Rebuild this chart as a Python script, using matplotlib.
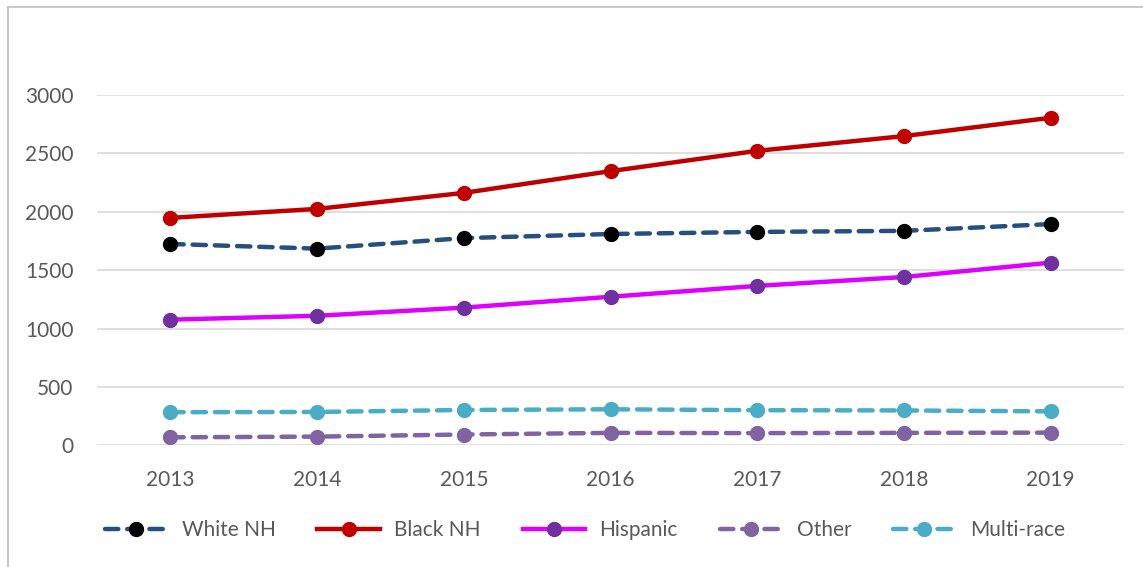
import matplotlib.pyplot as plt
from matplotlib.lines import Line2D

years = ['2013', '2014', '2015', '2016', '2017', '2018', '2019']
white_nh = [1725, 1685, 1775, 1810, 1828, 1837, 1895]
black_nh = [1948, 2025, 2162, 2348, 2522, 2648, 2805]
hispanic = [1077, 1110, 1180, 1273, 1366, 1442, 1565]
other = [70, 76, 94, 108, 106, 108, 110]
multi_race = [285, 287, 304, 310, 302, 300, 292]

txt = '#595959'
plt.rcParams['font.family'] = ['Lato', 'DejaVu Sans']

fig = plt.figure(figsize=(11.43, 5.67), dpi=100)
ax = fig.add_axes([0.0849, 0.2143, 0.8985, 0.6182])

x = range(len(years))
ax.plot(x, white_nh, color='#264f7f', lw=3.2, ls=(0, (3, 2)), dash_capstyle='round',
        marker='o', ms=10, mfc='black', mec='black', label='White NH', zorder=4)
ax.plot(x, black_nh, color='#c00000', lw=3.2, marker='o', ms=10,
        mfc='#c00000', mec='#c00000', label='Black NH', zorder=4)
ax.plot(x, hispanic, color='#dd00ff', lw=3.2, marker='o', ms=10,
        mfc='#7030a0', mec='#7030a0', label='Hispanic', zorder=4)
ax.plot(x, other, color='#8064a2', lw=3.2, ls=(0, (3, 2)), dash_capstyle='round',
        marker='o', ms=10, mfc='#8064a2', mec='#8064a2', label='Other', zorder=4)
ax.plot(x, multi_race, color='#4bacc6', lw=3.2, ls=(0, (3, 2)), dash_capstyle='round',
        marker='o', ms=10, mfc='#4bacc6', mec='#4bacc6', label='Multi-race', zorder=4)

ax.set_xlim(-0.5, 6.5)
ax.set_ylim(0, 3000)
ax.set_yticks(range(0, 3001, 500))
ax.set_xticks(list(x))
ax.set_xticklabels(years)
ax.grid(axis='y', color='#d9d9d9', lw=1.2)
ax.set_axisbelow(True)
for s in ax.spines.values():
    s.set_visible(False)
ax.tick_params(length=0, labelsize=15, colors=txt)
ax.tick_params(axis='y', pad=17)
ax.tick_params(axis='x', pad=18)

ax.legend(loc='center', bbox_to_anchor=(0.475, -0.241), ncol=5, frameon=False,
          fontsize=15, labelcolor=txt, handlelength=3.0, columnspacing=2.0, handletextpad=0.7)

# border of the chart area (left and top visible)
fig.add_artist(Line2D([0.007, 0.007], [0, 0.988], color='#bfbfbf', lw=1.2))
fig.add_artist(Line2D([0.007, 1.0], [0.988, 0.988], color='#bfbfbf', lw=1.2))

fig.savefig('out.png', dpi=100)
